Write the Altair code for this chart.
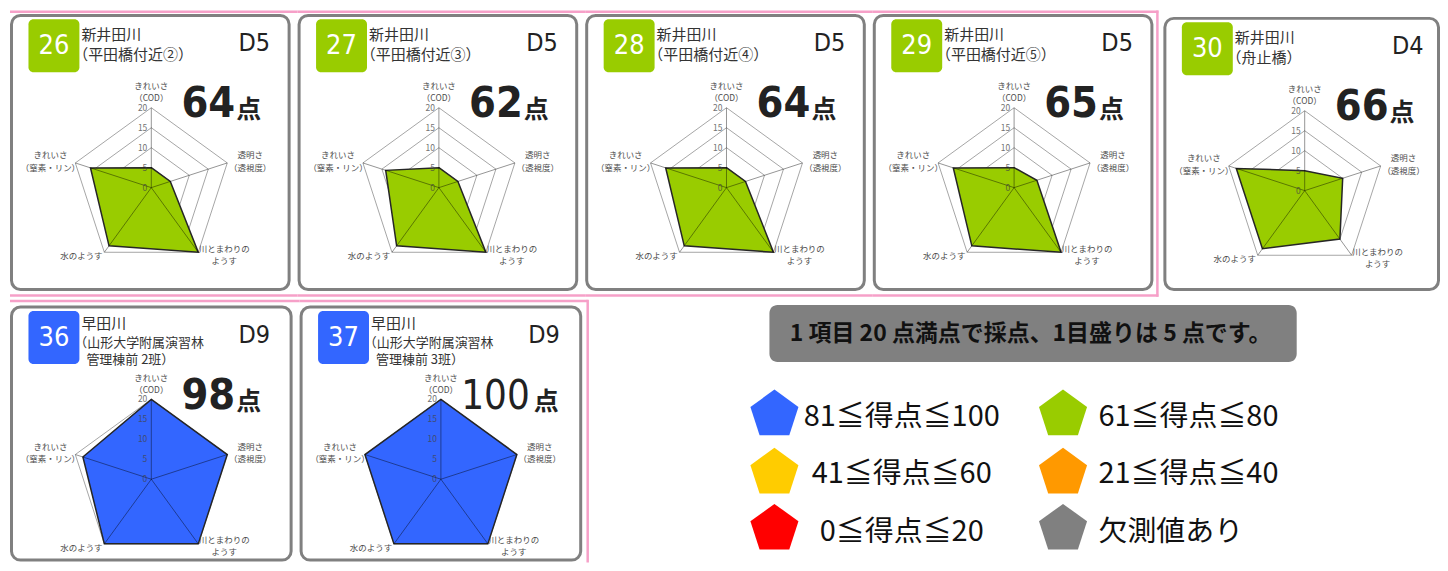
import altair as alt
import pandas as pd

# ------------------------------------------------------------------ data
panel_ids = [26, 27, 28, 29, 30, 36, 37]
river_names = ["新井田川", "新井田川", "新井田川", "新井田川", "新井田川", "早田川", "早田川"]
site_lines = [
    ["（平田橋付近②）"],
    ["（平田橋付近③）"],
    ["（平田橋付近④）"],
    ["（平田橋付近⑤）"],
    ["（舟止橋）"],
    ["（山形大学附属演習林", "管理棟前 2班）"],
    ["（山形大学附属演習林", "管理棟前 3班）"],
]
grades = ["D5", "D5", "D5", "D5", "D4", "D9", "D9"]
axis_names = [["きれいさ", "（COD）"], ["透明さ", "（透視度）"], ["川とまわりの", "ようす"],
              ["水のようす"], ["きれいさ", "（窒素・リン）"]]
score_cod = [5, 5, 5, 5, 5, 20, 20]
score_clarity = [5, 5, 5, 6, 10, 20, 20]
score_surround = [20, 20, 20, 20, 15, 20, 20]
score_water = [18, 18, 18, 18, 18, 20, 20]
score_np = [16, 14, 16, 16, 18, 18, 20]
tick_values = [0, 5, 10, 15, 20]
full_mark = 20

legend_labels = ["81≦得点≦100", "61≦得点≦80", "41≦得点≦60", "21≦得点≦40", "0≦得点≦20", "欠測値あり"]
legend_colors = ["#3366ff", "#99cc00", "#ffcc00", "#ff9900", "#ff0000", "#808080"]
legend_lower = [81, 61, 41, 21, 0]
note_text = "1 項目 20 点満点で採点、1目盛りは 5 点です。"

# ------------------------------------------------------------------ layout / style
JP = "Noto Sans CJK JP"
NARROW = "'Liberation Sans Narrow', 'DejaVu Sans Condensed', 'Noto Sans CJK JP', sans-serif"
PINK = "#f6a0c8"
FRAME = "#808080"
R = 80
CX, CY = 140, 172.5
LABEL_POS = [[(0, -101.5), (0, -89.5)], [(99, -32.5), (99, -20)], [(73, 61), (73, 73)],
             [(-70, 68.5)], [(-101, -32.5), (-101, -20)]]
PENTAGON = "M0,-1L0.951,-0.309L0.588,0.809L-0.588,0.809L-0.951,-0.309Z"

ROW1_H, ROW2_H = 288, 265
cells = [
    dict(w=288, h=ROW1_H, frame=(1.5, 5, 279.5, 279.5), pinks=[(0, 288, 1.25, 1.25), (0, 288, 285.5, 285.5)]),
    dict(w=288, h=ROW1_H, frame=(1.5, 5, 279.5, 279.5), pinks=[(0, 288, 1.25, 1.25), (0, 288, 285.5, 285.5)]),
    dict(w=288, h=ROW1_H, frame=(1.5, 5, 279.5, 279.5), pinks=[(0, 288, 1.25, 1.25), (0, 288, 285.5, 285.5)]),
    dict(w=288, h=ROW1_H, frame=(1.5, 5, 279.5, 279.5),
         pinks=[(0, 286, 1.25, 1.25), (0, 286, 285.5, 285.5), (285, 285, 0, 286.75)]),
    dict(w=280, h=ROW1_H, frame=(4.5, 8, 278.5, 279.5), pinks=[]),
    dict(w=290, h=ROW2_H, frame=(1.5, 9, 281.5, 262.5), pinks=[(0, 290, 3, 3)]),
    dict(w=290, h=ROW2_H, frame=(1.5, 9, 281.5, 262.5), pinks=[(0, 288.5, 3, 3), (288.5, 288.5, 1.75, ROW2_H)]),
]
one = pd.DataFrame({"n": [0]})


def score_color(s):
    for lo, c in zip(legend_lower, legend_colors):
        if s >= lo:
            return c
    return legend_colors[-1]


def txt(t, x, y, **kw):
    return alt.Chart(pd.DataFrame({"t": [t]})).mark_text(**kw).encode(
        x=alt.value(x), y=alt.value(y), text="t:N")


def radar_panel(p, cell):
    w, h = cell["w"], cell["h"]
    fx0, fy0, fx1, fy1 = cell["frame"]
    cx, cy = fx0 + CX, fy0 + CY
    vals = [score_cod[p], score_clarity[p], score_surround[p], score_water[p], score_np[p]]
    total = sum(vals)
    color = score_color(total)

    def X(f):
        return alt.X(f, scale=alt.Scale(domain=[0, w], nice=False, zero=False), axis=None)

    def Y(f):
        return alt.Y(f, scale=alt.Scale(domain=[0, h], nice=False, zero=False, reverse=True), axis=None)

    px = f"{cx} + {R} * datum.v / {full_mark} * sin(2 * PI * datum.i / 5)"
    py = f"{cy} - {R} * datum.v / {full_mark} * cos(2 * PI * datum.i / 5)"
    layers = [
        alt.Chart(one).mark_rect(cornerRadius=9, fill="white", stroke=FRAME, strokeWidth=3).encode(
            x=alt.value(fx0), x2=alt.value(fx1), y=alt.value(fy0), y2=alt.value(fy1))
    ]
    for (a, b, c, d) in cell["pinks"]:
        layers.append(alt.Chart(one).mark_rule(color=PINK, strokeWidth=2.5).encode(
            x=alt.value(a), x2=alt.value(b), y=alt.value(c), y2=alt.value(d)))

    grid_df = pd.DataFrame({"v": [t for t in tick_values[1:] for _ in range(5)],
                            "i": list(range(5)) * (len(tick_values) - 1)})
    layers.append(alt.Chart(grid_df).transform_calculate(x=px, y=py).mark_line(
        interpolate="linear-closed", color="#a6a6a6", strokeWidth=1).encode(
        x=X("x:Q"), y=Y("y:Q"), order="i:Q", detail="v:N"))

    poly_df = pd.DataFrame({"i": list(range(5)), "v": vals})
    layers.append(alt.Chart(poly_df).transform_calculate(x=px, y=py).mark_line(
        interpolate="linear-closed", fill=color, fillOpacity=1, stroke="#262626", strokeWidth=1.5).encode(
        x=X("x:Q"), y=Y("y:Q"), order="i:Q"))

    spoke_df = pd.DataFrame({"i": list(range(5)), "v": [full_mark] * 5})
    layers.append(alt.Chart(spoke_df).transform_calculate(x=px, y=py, x0=f"{cx}", y0=f"{cy}").mark_rule(
        color="black", opacity=0.42, strokeWidth=1).encode(
        x=X("x0:Q"), y=Y("y0:Q"), x2="x:Q", y2="y:Q"))

    tick_df = pd.DataFrame({"v": tick_values, "t": [str(t) for t in tick_values]})
    layers.append(alt.Chart(tick_df).transform_calculate(y=f"{cy} - {R} * datum.v / {full_mark}").mark_text(
        align="right", baseline="middle", fontSize=8.5, color="#444444", opacity=0.75, font=JP).encode(
        x=alt.value(cx - 4), y=Y("y:Q"), text="t:N"))

    lab_rows = []
    for i, lines in enumerate(axis_names):
        for j, t in enumerate(lines):
            dx, dy = LABEL_POS[i][j]
            lab_rows.append({"t": t, "x": cx + dx, "y": cy + dy})
    layers.append(alt.Chart(pd.DataFrame(lab_rows)).mark_text(
        fontSize=8.5, color="#4d4d4d", font=JP, baseline="middle").encode(
        x=X("x:Q"), y=Y("y:Q"), text="t:N"))

    # badge
    layers.append(alt.Chart(one).mark_rect(cornerRadius=5, color=color).encode(
        x=alt.value(fx0 + 17), x2=alt.value(fx0 + 68), y=alt.value(fy0 + 4), y2=alt.value(fy0 + 57)))
    layers.append(txt(str(panel_ids[p]), fx0 + 42.5, fy0 + 31, fontSize=27, color="white", font=NARROW,
                      align="center", baseline="middle"))
    # names
    lines = site_lines[p]
    name_x = fx0 + 70
    name_y = 20 if len(lines) == 1 else 17
    loc_y0 = 39.5 if len(lines) == 1 else 36
    loc_fs = 15 if len(lines) == 1 else 13
    layers.append(txt(river_names[p], name_x, fy0 + name_y, fontSize=15, color="#333333", font=JP,
                      align="left", baseline="middle"))
    for j, t in enumerate(lines):
        lx = name_x - 0.55 * loc_fs if t.startswith("（") else name_x + 5
        layers.append(txt(t, lx, fy0 + loc_y0 + 17 * j, fontSize=loc_fs,
                          color="#333333", font=JP, align="left", baseline="middle"))
    layers.append(txt(grades[p], fx0 + 259, fy0 + 28, fontSize=25, color="#222222", font=NARROW,
                      align="right", baseline="middle"))
    # score
    big = total >= 100
    layers.append(txt(str(total), fx0 + (229 if big else 224), fy0 + 102, fontSize=40 if big else 43,
                      color="#222222", font=NARROW,
                      fontWeight="normal" if big else "bold", align="right", baseline="alphabetic"))
    layers.append(txt("点", fx0 + (233 if big else 225), fy0 + 103, fontSize=25, color="#222222", font=JP,
                      fontWeight="bold", align="left", baseline="alphabetic"))
    return alt.layer(*layers).properties(width=w, height=h)


def legend_chart(w, h):
    def X(f):
        return alt.X(f, scale=alt.Scale(domain=[0, w], nice=False, zero=False), axis=None)

    def Y(f):
        return alt.Y(f, scale=alt.Scale(domain=[0, h], nice=False, zero=False, reverse=True), axis=None)

    col_x = [185.5, 474.5]
    row_y = [117, 175.3, 231.5]
    lab_x = [313, 510]
    lab_y = [119, 176.5, 234]
    items = pd.DataFrame({
        "label": legend_labels,
        "c": legend_colors,
        "px": [col_x[k % 2] for k in range(len(legend_labels))],
        "py": [row_y[k // 2] for k in range(len(legend_labels))],
        "lx": [lab_x[k % 2] for k in range(len(legend_labels))],
        "ly": [lab_y[k // 2] for k in range(len(legend_labels))],
        "col": [k % 2 for k in range(len(legend_labels))],
    })
    layers = [
        alt.Chart(one).mark_rect(cornerRadius=8, color="#808080").encode(
            x=alt.value(180.5), x2=alt.value(708.5), y=alt.value(7), y2=alt.value(64)),
        txt(note_text, 442, 36, fontSize=23, fontWeight="bold", color="#111111", font=JP,
            align="center", baseline="middle"),
        alt.Chart(items).mark_point(shape=PENTAGON, filled=True, size=2560, opacity=1, strokeWidth=0).encode(
            x=X("px:Q"), y=Y("py:Q"), color=alt.Color("c:N", scale=None)),
        alt.Chart(items).transform_filter("datum.col == 0").mark_text(
            fontSize=29, color="#111111", font=JP, align="center", baseline="middle").encode(
            x=X("lx:Q"), y=Y("ly:Q"), text="label:N"),
        alt.Chart(items).transform_filter("datum.col == 1").mark_text(
            fontSize=29, color="#111111", font=JP, align="left", baseline="middle").encode(
            x=X("lx:Q"), y=Y("ly:Q"), text="label:N"),
    ]
    return alt.layer(*layers).properties(width=w, height=h)


panels = [radar_panel(p, cells[p]) for p in range(len(panel_ids))]
row1 = alt.hconcat(*panels[:5], spacing=0, bounds="flush")
row2 = alt.hconcat(panels[5], panels[6], legend_chart(852, ROW2_H), spacing=0, bounds="flush")
chart = alt.vconcat(row1, row2, spacing=0).properties(padding=0).configure_view(stroke=None)

chart.save("out.html", embed_options={"renderer": "svg", "actions": False})
